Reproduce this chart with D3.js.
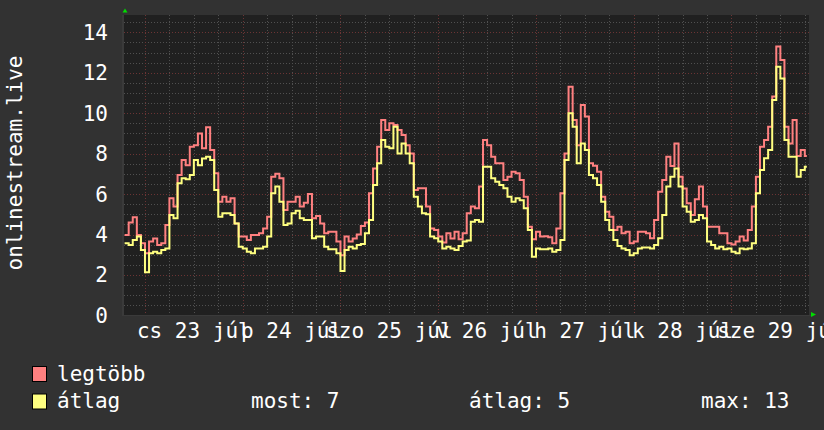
<!DOCTYPE html>
<html>
<head>
<meta charset="utf-8">
<script src="https://cdn.jsdelivr.net/npm/d3@7"></script>
<style>
  body { margin: 0; background: #323232; }
  svg text { font-family: "DejaVu Sans Mono", monospace; font-size: 21px; fill: #ffffff; }
</style>
</head>
<body>
<svg id="chart" width="824" height="430"></svg>
<script>
// hourly samples, first one at 22 Jul 19:00
var seriesStart = new Date(2020, 6, 22, 19, 0);
var seriesEnd = new Date(2020, 6, 29, 18, 30);

var legtobb = [
  3.98, 4.6, 4.85, 3.98, 3.57, 3.07, 3.65, 3.8, 3.48, 3.57,
  4.47, 5.79, 5.38, 6.94, 7.68, 7.43, 8.34, 8.42, 9.0, 8.26,
  9.3, 8.18, 7.03, 5.62, 5.87, 5.62, 5.79, 4.55, 3.9, 3.9,
  3.73, 3.98, 3.98, 4.06, 4.3, 4.88, 6.86, 7.0, 6.78, 5.21,
  5.62, 5.62, 5.87, 5.38, 5.57, 6.0, 4.8, 4.91, 4.55, 4.06,
  4.14, 4.14, 3.65, 2.98, 3.9, 3.65, 3.8, 4.0, 4.42, 4.6,
  6.04, 7.27, 8.34, 9.66, 9.17, 9.5, 9.41, 9.17, 8.92, 8.42,
  8.01, 6.2, 6.29, 6.29, 5.38, 4.3, 4.22, 3.9, 3.6, 4.06,
  3.8, 4.14, 3.76, 4.06, 5.05, 5.38, 5.3, 6.37, 8.67, 8.42,
  7.84, 7.52, 7.52, 6.7, 6.86, 7.1, 7.03, 6.7, 5.87, 4.39,
  3.76, 4.14, 3.9, 3.92, 3.86, 3.57, 4.3, 6.04, 8.01, 11.31,
  9.66, 8.42, 10.4, 9.83, 7.52, 7.4, 7.1, 5.87, 5.13, 4.88,
  4.22, 4.39, 4.06, 4.14, 3.57, 3.65, 4.14, 4.14, 4.06, 3.81,
  4.72, 6.12, 6.7, 7.85, 7.39, 8.5, 6.86, 6.28, 5.54, 4.96,
  5.74, 6.37, 5.38, 4.39, 4.39, 4.39, 4.06, 4.06, 3.57, 3.51,
  3.65, 3.9, 3.7, 4.22, 5.38, 6.86, 8.34, 8.67, 9.33, 10.82,
  13.3, 12.63, 9.33, 8.5, 9.66, 7.88, 8.18, 7.88
];

var atlag = [
  3.57, 3.48, 3.73, 3.9, 3.23, 2.13, 3.07, 3.15, 3.07, 3.23,
  3.31, 4.96, 4.8, 6.53, 6.78, 6.73, 6.94, 7.68, 7.43, 7.76,
  7.84, 7.68, 6.2, 4.88, 5.05, 5.05, 4.96, 4.55, 3.4, 3.31,
  3.15, 3.07, 3.31, 3.31, 3.4, 3.9, 6.04, 6.37, 5.62, 4.47,
  4.55, 5.05, 5.18, 4.8, 4.72, 4.72, 3.81, 3.9, 3.9, 3.4,
  3.27, 3.27, 3.07, 2.2, 3.23, 3.4, 3.31, 3.48, 3.53, 4.06,
  4.72, 6.45, 7.52, 8.67, 8.34, 8.26, 9.33, 8.01, 8.5, 8.01,
  7.52, 5.87, 5.38, 5.05, 5.0, 3.9, 3.81, 3.65, 3.31, 3.4,
  3.31, 3.23, 3.43, 3.65, 3.7, 4.63, 4.72, 4.63, 7.35, 7.35,
  6.78, 6.61, 6.45, 6.29, 5.87, 5.62, 5.79, 5.7, 5.3, 4.22,
  2.9, 3.31, 3.27, 3.27, 3.31, 3.15, 3.23, 3.73, 7.68, 10.0,
  9.33, 7.52, 8.5, 8.18, 6.94, 6.78, 6.45, 5.62, 4.72, 4.22,
  3.73, 3.43, 3.31, 3.23, 2.98, 3.07, 3.31, 3.36, 3.36, 3.31,
  3.48, 3.81, 4.96, 6.37, 6.86, 7.27, 6.37, 5.38, 5.13, 4.63,
  4.72, 4.96, 4.8, 3.65, 3.48, 3.31, 3.4, 3.27, 3.31, 3.15,
  3.07, 3.31, 3.27, 3.31, 3.57, 6.04, 7.19, 7.77, 8.18, 10.65,
  12.3, 11.72, 8.67, 7.85, 7.85, 6.86, 7.19, 7.35
];

var yTicks = [0, 2, 4, 6, 8, 10, 12, 14];
var dayLabels = ["cs 23 júl", "p 24 júl", "szo 25 júl", "v 26 júl", "h 27 júl", "k 28 júl", "sze 29 júl"];
var dayNoons = [23, 24, 25, 26, 27, 28, 29].map(function(d) { return new Date(2020, 6, d, 12, 0); });
var yTitle = "onlinestream.live";
var legendNames = ["legtöbb", "átlag"];
var legendColors = ["#ff8080", "#ffff80"];
var legendStats = ["most: 7", "átlag: 5", "max: 13"];

var plot = {left: 124, right: 809, top: 15, bottom: 315};

var svg = d3.select("#chart");

var xScale = d3.scaleTime()
               .domain([new Date(2020, 6, 22, 18, 51), new Date(2020, 6, 29, 19, 2)])
               .range([plot.left, plot.right]);

var yScale = d3.scaleLinear()
               .domain([0, 14])
               .range([315.4, 32.3]);

function toPoints(values)
{
  var pts = values.map(function(v, i) {
    return {t: d3.timeHour.offset(seriesStart, i), v: v};
  });
  // last step runs on to the end of the data
  pts.push({t: seriesEnd, v: values[values.length - 1]});
  return pts;
}

// plot background
svg.append("rect")
   .attr("x", plot.left)
   .attr("y", plot.top)
   .attr("width", plot.right - plot.left)
   .attr("height", plot.bottom - plot.top)
   .attr("fill", "#202020");

var grid = svg.append("g").attr("shape-rendering", "crispEdges");

// horizontal grid, minor every 0.5, major every 2
d3.range(0.5, 14.9, 0.5).forEach(function(v) {
  var major = (v % 2 === 0);
  grid.append("line")
      .attr("x1", plot.left).attr("x2", plot.right)
      .attr("y1", Math.round(yScale(v)) + 0.5).attr("y2", Math.round(yScale(v)) + 0.5)
      .attr("stroke", major ? "#6b3434" : "#505050")
      .attr("stroke-dasharray", "1,2");
});

// vertical grid, minor every 6 hours, major at midnight
xScale.ticks(d3.timeHour.every(6)).forEach(function(t) {
  var major = (t.getHours() === 0);
  var x = Math.round(xScale(t)) + 0.5;
  grid.append("line")
      .attr("x1", x).attr("x2", x)
      .attr("y1", plot.top).attr("y2", plot.bottom + 3)
      .attr("stroke", major ? "#6b3434" : "#505050")
      .attr("stroke-dasharray", "1,2");
});

// axis lines
svg.append("line")
   .attr("x1", plot.left - 1).attr("x2", plot.left - 1)
   .attr("y1", plot.top).attr("y2", plot.bottom + 1)
   .attr("stroke", "#3a3a3a").attr("stroke-width", 2);
svg.append("line")
   .attr("x1", plot.left).attr("x2", plot.right + 2)
   .attr("y1", plot.bottom + 0.5).attr("y2", plot.bottom + 0.5)
   .attr("stroke", "#3a3a3a");

// arrows
svg.append("path")
   .attr("d", "M122.5,12.5 L125,8.5 L127.5,12.5 Z")
   .attr("fill", "#00dd00");
svg.append("path")
   .attr("d", "M811,312 L816,314.5 L811,317 Z")
   .attr("fill", "#00dd00");

// data lines
var line = d3.line()
             .curve(d3.curveStepAfter)
             .x(function(d) { return xScale(d.t); })
             .y(function(d) { return yScale(d.v); });

[legtobb, atlag].forEach(function(values, i) {
  svg.append("path")
     .datum(toPoints(values))
     .attr("d", line)
     .attr("fill", "none")
     .attr("stroke", legendColors[i])
     .attr("stroke-width", 2);
});

// y tick labels
svg.selectAll(".ylab")
   .data(yTicks)
   .enter().append("text")
   .attr("class", "ylab")
   .attr("x", 108)
   .attr("y", function(d) { return yScale(d) + 7.5; })
   .attr("text-anchor", "end")
   .text(function(d) { return d; });

// y title
svg.append("text")
   .attr("transform", "translate(22,163) rotate(-90)")
   .attr("text-anchor", "middle")
   .text(yTitle);

// day labels, centred at noon
svg.selectAll(".xlab")
   .data(dayLabels)
   .enter().append("text")
   .attr("class", "xlab")
   .attr("x", function(d, i) { return xScale(dayNoons[i]); })
   .attr("y", 338)
   .attr("text-anchor", "middle")
   .text(function(d) { return d; });

// legend
legendNames.forEach(function(name, i) {
  var y = 366 + i * 27.5;
  svg.append("rect")
     .attr("x", 32.5).attr("y", y + 0.5)
     .attr("width", 14).attr("height", 15)
     .attr("fill", legendColors[i])
     .attr("stroke", "#000");
  svg.append("text")
     .attr("x", 57)
     .attr("y", y + 14.5)
     .text(name);
});

var statX = [251, 469, 701];
legendStats.forEach(function(s, i) {
  svg.append("text")
     .attr("x", statX[i])
     .attr("y", 408)
     .text(s);
});
</script>
</body>
</html>
